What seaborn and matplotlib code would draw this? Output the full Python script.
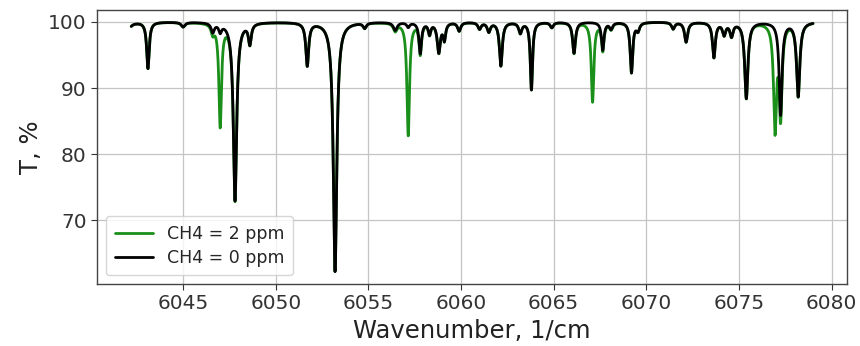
import numpy as np
import pandas as pd
import matplotlib
matplotlib.use("Agg")
import matplotlib.pyplot as plt
import seaborn as sns

# Spectral window (1/cm)
wn_start, wn_stop = 6042.2, 6079.0

# Background absorption lines (CH4 = 0 ppm): centre (1/cm), minimum transmission (%), half-width (1/cm)
bg_center = [6041.9, 6043.1, 6045.0, 6046.6, 6047.0, 6047.8, 6048.6, 6051.7, 6053.2,
             6054.8, 6056.45, 6057.15, 6057.8, 6058.3, 6058.8, 6059.1, 6059.9, 6061.0,
             6061.5, 6062.15, 6063.2, 6063.8, 6064.9, 6066.1, 6067.65, 6068.1, 6069.2,
             6069.55, 6071.45, 6072.15, 6073.65, 6074.2, 6074.6, 6075.4, 6077.25, 6078.2]
bg_min_T = [97.0, 93.0, 99.3, 98.6, 98.8, 73.0, 96.9, 93.5, 62.3,
            99.2, 98.8, 99.3, 95.3, 98.3, 95.5, 97.5, 98.7, 99.0,
            98.6, 93.4, 98.4, 89.8, 99.2, 95.3, 95.8, 99.0, 92.4,
            98.8, 99.0, 97.0, 94.7, 98.2, 98.0, 88.5, 86.0, 88.8]
bg_hwhm = [0.15, 0.08, 0.12, 0.10, 0.09, 0.10, 0.09, 0.09, 0.10,
           0.10, 0.12, 0.09, 0.08, 0.08, 0.10, 0.08, 0.10, 0.10,
           0.10, 0.09, 0.10, 0.07, 0.10, 0.09, 0.08, 0.10, 0.08,
           0.10, 0.10, 0.10, 0.09, 0.10, 0.10, 0.10, 0.09, 0.10]

# Additional CH4 lines (CH4 = 2 ppm)
ch4_center = [6047.0, 6057.15, 6067.1, 6076.95]
ch4_min_T = [85.5, 83.5, 88.0, 84.0]
ch4_hwhm = [0.08, 0.08, 0.08, 0.09]

series_labels = ["CH4 = 2 ppm", "CH4 = 0 ppm"]
series_colors = ["#1a8f1a", "black"]


def transmission(wn, centers, mins, widths):
    absorb = np.zeros_like(wn)
    for c, t, g in zip(centers, mins, widths):
        absorb += -np.log(t / 100.0) * g ** 2 / ((wn - c) ** 2 + g ** 2)
    return absorb


wn = np.arange(wn_start, wn_stop + 1e-9, 0.004)
a_bg = transmission(wn, bg_center, bg_min_T, bg_hwhm)
a_ch4 = transmission(wn, ch4_center, ch4_min_T, ch4_hwhm)
df = pd.concat([
    pd.DataFrame({"wn": wn, "T": 100 * np.exp(-(a_bg + a_ch4)), "s": series_labels[0]}),
    pd.DataFrame({"wn": wn, "T": 100 * np.exp(-a_bg), "s": series_labels[1]}),
])

sns.set_style("ticks")
plt.rcParams["font.family"] = ["DejaVu Sans"]

fig = plt.figure(figsize=(8.6, 3.46), dpi=100)
ax = fig.add_axes([0.113, 0.179, 0.872, 0.792])
sns.lineplot(data=df, x="wn", y="T", hue="s", palette=series_colors,
             hue_order=series_labels, estimator=None, sort=False, lw=2.0, ax=ax)

ax.grid(True, color="#c4c4c4", lw=0.9)
ax.set_xticks([6045, 6050, 6055, 6060, 6065, 6070, 6075, 6080])
ax.set_yticks([70, 80, 90, 100])
ax.tick_params(labelsize=14.5, colors="#333333", length=4)
ax.set_xlabel("Wavenumber, 1/cm", fontsize=17.5, color="#222222")
ax.set_ylabel("T, %", fontsize=17.5, color="#222222")
for sp in ax.spines.values():
    sp.set_color("#444444")
    sp.set_linewidth(1.0)
ax.legend(title=None, loc="lower left", fontsize=12.5, frameon=True,
          handlelength=2.2, borderpad=0.5, labelspacing=0.35)

fig.savefig("out.png", dpi=100)
